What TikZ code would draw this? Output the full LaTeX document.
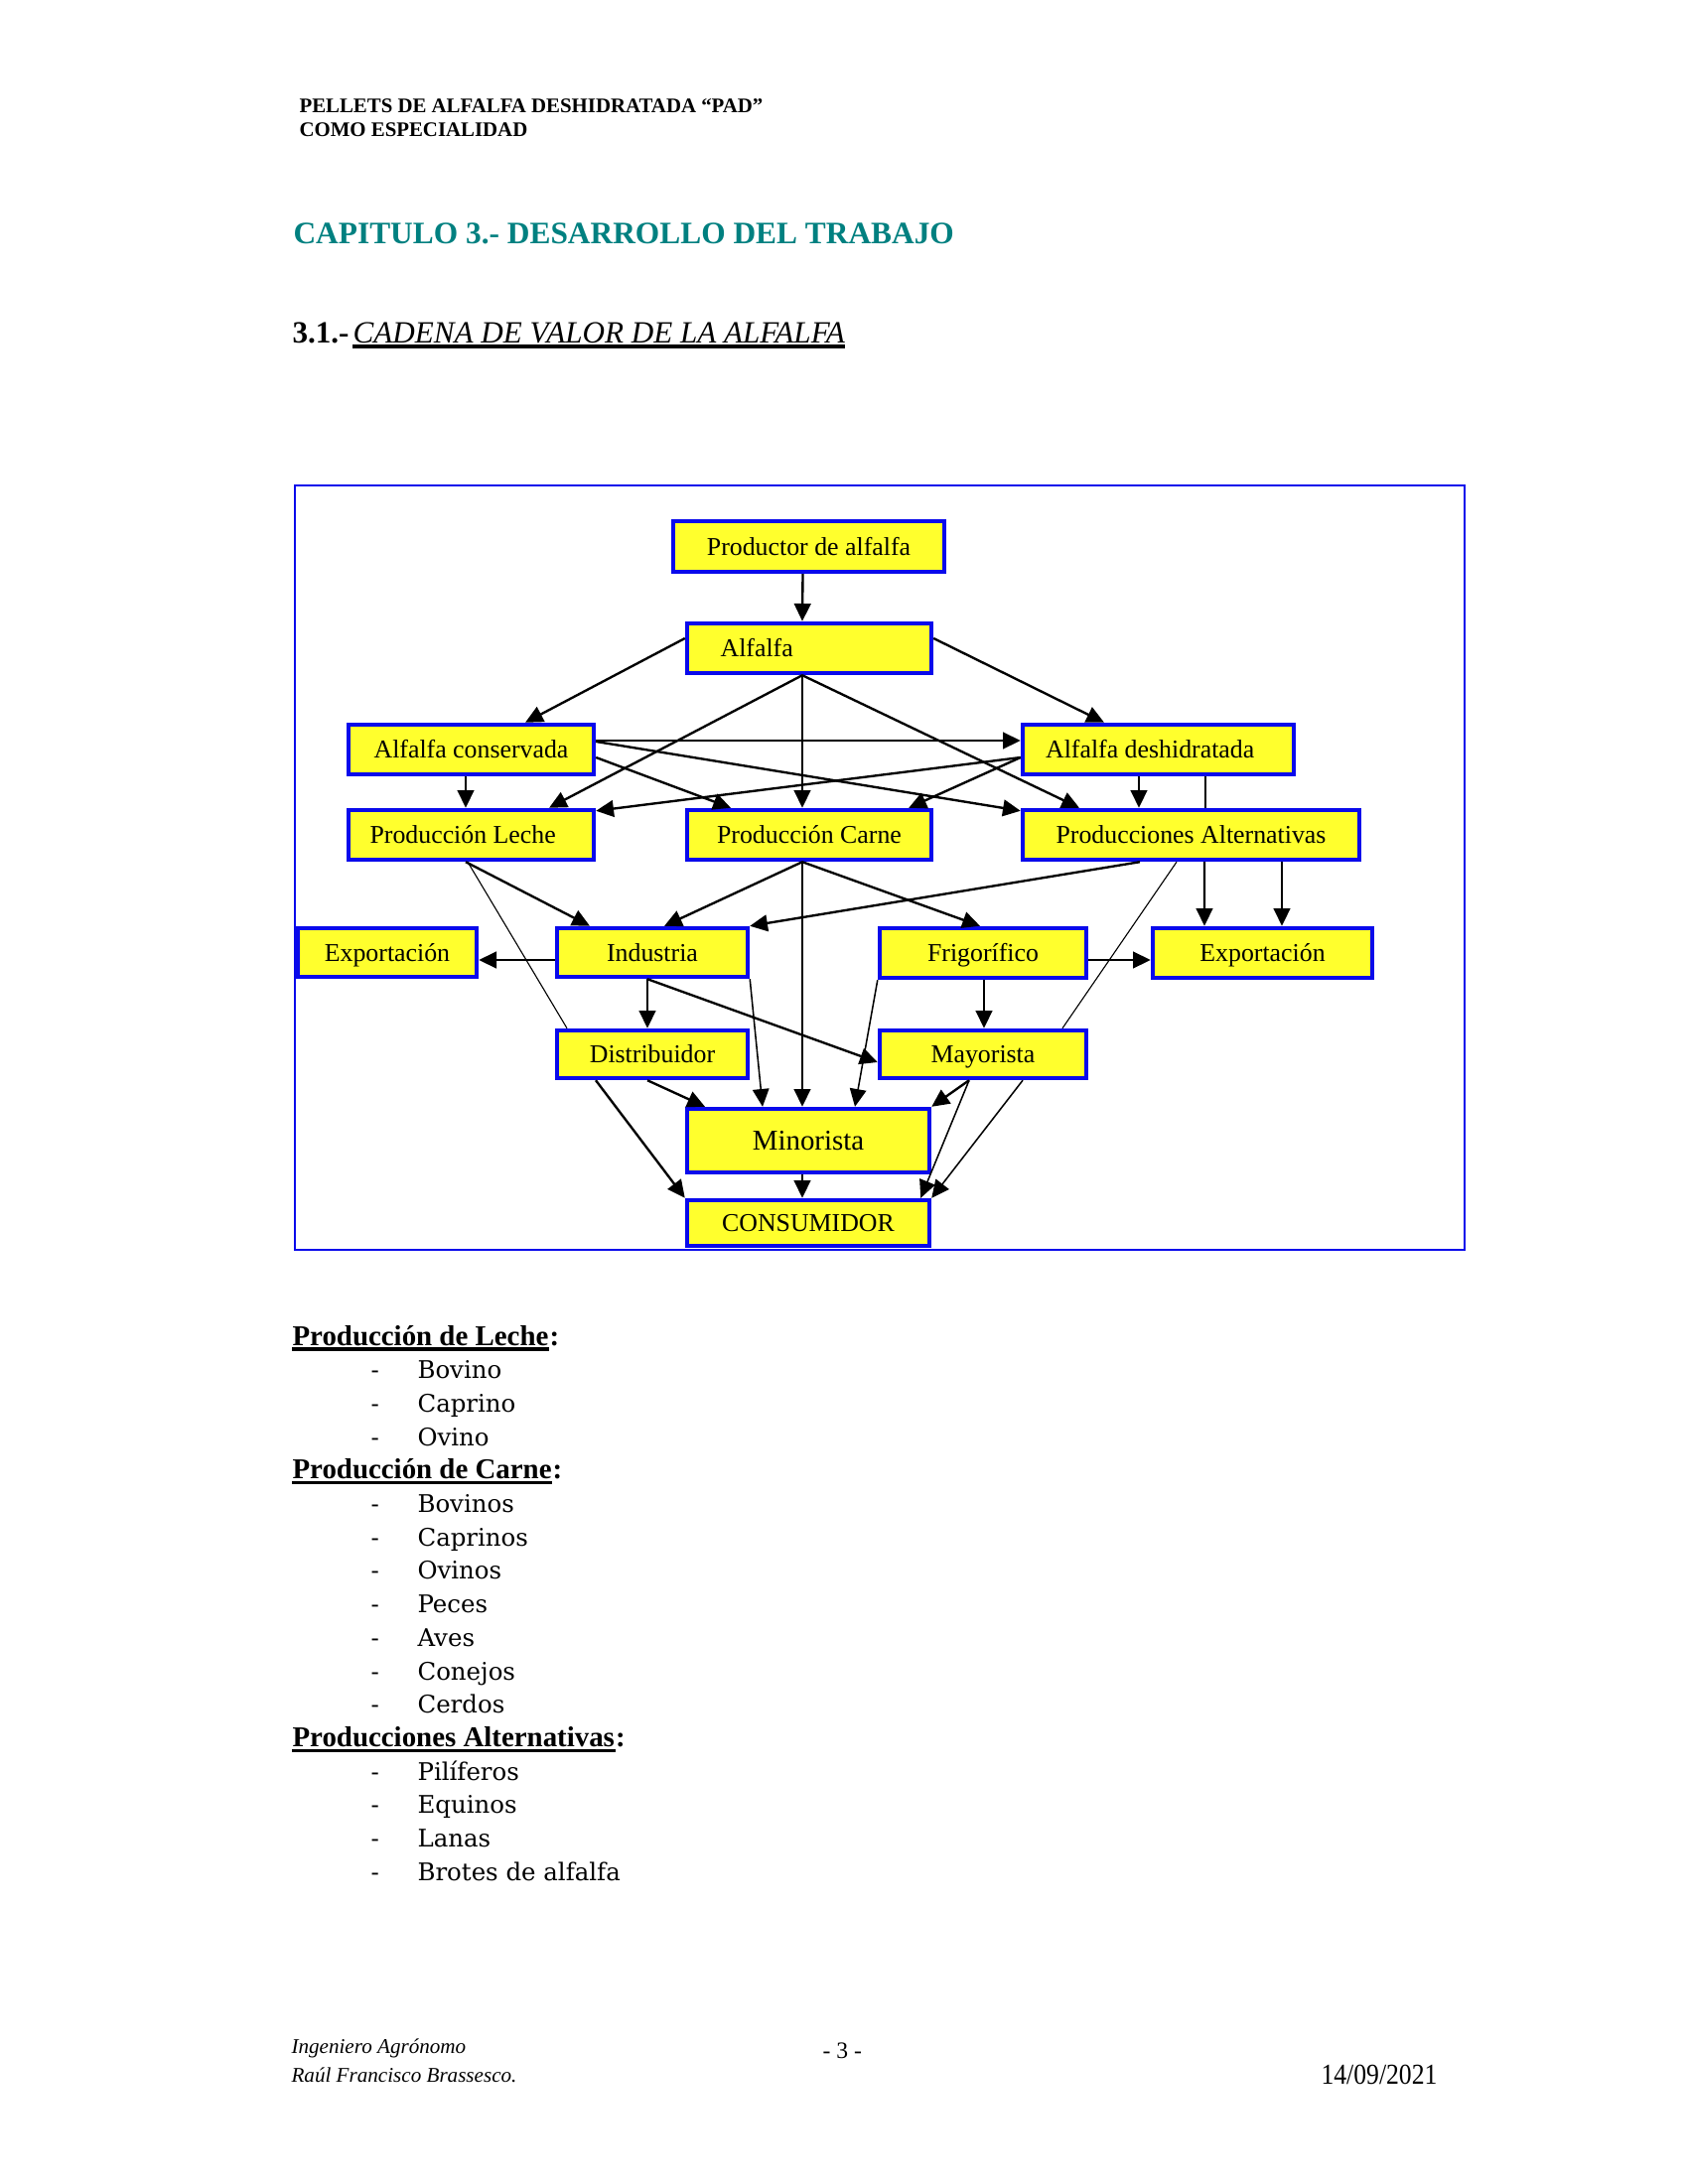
\documentclass[tikz,border=0pt]{standalone}
\usepackage{fontspec}
\setmainfont{Liberation Serif}
\newfontfamily\listfont{DejaVu Serif}
\newfontfamily\datefont[FakeStretch=0.88]{Liberation Serif}
\usetikzlibrary{arrows.meta,calc}
\definecolor{boxblue}{RGB}{10,10,235}
\definecolor{boxyellow}{RGB}{255,255,45}
\definecolor{titleteal}{RGB}{0,128,128}
\begin{document}
\begin{tikzpicture}[x=0.36pt,y=-0.36pt,
  box/.style 2 args={draw=boxblue, fill=boxyellow, line width=1.6pt,
    minimum width=#1*0.36pt, minimum height=#2*0.36pt, inner sep=0pt,
    text height=6.4pt, text depth=0pt,
    font=\fontsize{9.3}{11}\selectfont},
  arr/.style={line width=0.85pt, -{Triangle[length=6.4pt,width=6pt]}},
  arrthin/.style={line width=0.55pt, -{Triangle[length=6.4pt,width=6pt]}},
  ln/.style={line width=0.4pt},
  txt/.style={inner sep=0pt, anchor=base west},
  hdr/.style={txt, font=\bfseries\fontsize{7.5}{9}\selectfont},
  lhead/.style={txt, font=\bfseries\fontsize{10.4}{12}\selectfont},
  litem/.style={txt, font=\listfont\fontsize{8.8}{11}\selectfont},
  foot/.style={txt, font=\itshape\fontsize{7.6}{9}\selectfont},
]
\useasboundingbox (0,0) rectangle (1700,2200);
\fill[white] (0,0) rectangle (1700,2200);

% header and titles
\node[hdr] (h1) at (301,114) {PELLETS DE ALFALFA DESHIDRATADA “PAD”};
\node[hdr] (h2) at (301,138) {COMO ESPECIALIDAD};
\node[txt, text=titleteal, font=\bfseries\fontsize{11.3}{13}\selectfont] (title) at (295,246) {CAPITULO 3.- DESARROLLO DEL TRABAJO};
\node[txt, font=\bfseries\fontsize{11.2}{13}\selectfont] (secnum) at (294,345) {3.1.-};
\node[txt, font=\itshape\fontsize{11.2}{13}\selectfont] (sectit) at (355,345) {CADENA DE VALOR DE LA ALFALFA};
\draw[line width=1.1pt] ($(sectit.base west)+(0,4)$) -- ($(sectit.base east)+(0,4)$);

% frame
\node[draw=boxblue, line width=0.6pt, minimum width=1178*0.36pt, minimum height=770*0.36pt, inner sep=0pt] (frame) at (886,874) {};

% boxes
\node[box={273}{51}] (prod) at (814.5,550.5) {Productor de alfalfa};
\node[box={246}{50}] (alf) at (815,653) {Alfalfa\kern38pt};
\node[box={247}{50}] (cons) at (474.5,755) {Alfalfa conservada};
\node[box={273}{50}] (desh) at (1166.5,755) {Alfalfa deshidratada\kern6pt};
\node[box={247}{50}] (leche) at (474.5,841) {Producción Leche\kern6pt};
\node[box={246}{50}] (carne) at (815,841) {Producción Carne};
\node[box={339}{50}] (palt) at (1199.5,841) {Producciones Alternativas};
\node[box={180}{49}] (expa) at (390,959.5) {Exportación};
\node[box={192}{49}] (ind) at (657,959.5) {Industria};
\node[box={208}{50}] (frig) at (990,960) {Frigorífico};
\node[box={221}{50}] (expb) at (1271.5,960) {Exportación};
\node[box={192}{48}] (dist) at (657,1062) {Distribuidor};
\node[box={208}{48}] (may) at (990,1062) {Mayorista};
\node[box={244}{64}, text height=7.1pt, font=\fontsize{10.4}{12}\selectfont] (mino) at (814,1149) {Minorista};
\node[box={244}{46}] (cons2) at (814,1232) {CONSUMIDOR};

% connectors
\draw[arr] ($(prod.south)+(-6,0)$) -- ($(alf.north)+(-7,0)$);
\draw[arr] ($(alf.west)+(0,-10)$) -- ($(cons.north)+(54.5,0)$);
\draw[arr] ($(alf.south)+(-7,0)$) -- ($(leche.north)+(78.5,0)$);
\draw[arr] ($(alf.south)+(-7,0)$) -- ($(carne.north)+(-7,0)$);
\draw[arr] ($(alf.south)+(-7,0)$) -- ($(palt.north)+(-112.5,0)$);
\draw[arr] ($(alf.east)+(0,-10)$) -- ($(desh.north)+(-54.5,0)$);
\draw[arr] ($(cons.east)+(0,-9)$) -- ($(desh.west)+(0,-9)$);
\draw[arr] ($(cons.east)+(0,-8)$) -- ($(palt.north west)+(0,3)$);
\draw[arr] ($(cons.east)+(0,8)$) -- ($(carne.north)+(-79,0)$);
\draw[arr] ($(cons.south)+(-5.5,0)$) -- ($(leche.north)+(-5.5,0)$);
\draw[arr] ($(desh.west)+(0,8)$) -- ($(leche.north east)+(0,3)$);
\draw[arr] ($(desh.west)+(0,8)$) -- ($(carne.north east)+(-25,0)$);
\draw[arr] ($(desh.south)+(-19.5,0)$) -- ($(palt.north)+(-52.5,0)$);
\draw[ln] ($(desh.south)+(47.5,0)$) -- ($(palt.north)+(14.5,0)$);
\draw[arr] ($(leche.south)+(-5.5,0)$) -- ($(ind.north)+(-63,0)$);
\draw[ln] ($(leche.south)+(-3.5,0)$) -- ($(dist.north)+(-86,0)$);
\draw[arr] ($(carne.south)+(-7,0)$) -- ($(ind.north)+(12,0)$);
\draw[arr] ($(carne.south)+(-7,0)$) -- ($(mino.north)+(-6,0)$);
\draw[arr] ($(carne.south)+(-7,0)$) -- ($(frig.north)+(-3,0)$);
\draw[arr] ($(palt.south)+(-51.5,0)$) -- (ind.north east);
\draw[ln] ($(palt.south)+(-14.5,0)$) -- ($(may.north)+(80,0)$);
\draw[arr] ($(palt.south)+(13.5,0)$) -- ($(expb.north)+(-58.5,0)$);
\draw[arr] ($(palt.south)+(91.5,0)$) -- ($(expb.north)+(19.5,0)$);
\draw[arr] ($(ind.west)+(0,7.5)$) -- ($(expa.east)+(0,7.5)$);
\draw[arr] ($(ind.south)+(-5,0)$) -- ($(dist.north)+(-5,0)$);
\draw[arr] ($(ind.south)+(-5,0)$) -- ($(may.west)+(0,8)$);
\draw[arrthin] (ind.south east) -- ($(mino.north)+(-46,0)$);
\draw[arr] ($(frig.east)+(0,7)$) -- ($(expb.west)+(0,7)$);
\draw[arr] ($(frig.south)+(1,0)$) -- ($(may.north)+(1,0)$);
\draw[arrthin] (frig.south west) -- ($(mino.north)+(47,0)$);
\draw[arr] ($(dist.south)+(-5,0)$) -- ($(mino.north)+(-104,0)$);
\draw[arr] ($(dist.south)+(-57,0)$) -- (cons2.north west);
\draw[arr] ($(mino.south)+(-6,0)$) -- ($(cons2.north)+(-6,0)$);
\draw[arr] ($(may.south)+(-14,0)$) -- (mino.north east);
\draw[arrthin] ($(may.south)+(-14,0)$) -- ($(cons2.north east)+(-11,0)$);
\draw[arrthin] ($(may.south)+(40,0)$) -- (cons2.north east);

% lists
\node[lhead] (pl) at (294,1355) {Producción de Leche};
\node[lhead] (plc) at (pl.base east) {:};
\draw[line width=1.1pt] ($(pl.base west)+(0,4)$) -- ($(pl.base east)+(0,4)$);
\foreach \t [count=\i] in {Bovino,Caprino,Ovino}{
  \node[litem] (la\i) at (373,{1355+\i*33.7}) {-};
  \node[litem] (lb\i) at (420,{1355+\i*33.7}) {\t};
}
\node[lhead] (pc) at (294,1489.8) {Producción de Carne};
\node[lhead] (pcc) at (pc.base east) {:};
\draw[line width=1.1pt] ($(pc.base west)+(0,4)$) -- ($(pc.base east)+(0,4)$);
\foreach \t [count=\i] in {Bovinos,Caprinos,Ovinos,Peces,Aves,Conejos,Cerdos}{
  \node[litem] (ca\i) at (373,{1489.8+\i*33.7}) {-};
  \node[litem] (cb\i) at (420,{1489.8+\i*33.7}) {\t};
}
\node[lhead] (pa) at (294,1759.4) {Producciones Alternativas};
\node[lhead] (pac) at (pa.base east) {:};
\draw[line width=1.1pt] ($(pa.base west)+(0,4)$) -- ($(pa.base east)+(0,4)$);
\foreach \t [count=\i] in {Pilíferos,Equinos,Lanas,Brotes de alfalfa}{
  \node[litem] (aa\i) at (373,{1759.4+\i*33.7}) {-};
  \node[litem] (ab\i) at (420,{1759.4+\i*33.7}) {\t};
}

% footer
\node[foot] (f1) at (293,2068) {Ingeniero Agrónomo};
\node[foot] (f2) at (293,2097) {Raúl Francisco Brassesco.};
\node[txt, font=\fontsize{8.5}{10}\selectfont] (pg) at (828,2073) {- 3 -};
\node[inner sep=0pt, anchor=base east, font=\datefont\fontsize{10.5}{12}\selectfont] (date) at (1448,2099) {14/09/2021};
\end{tikzpicture}
\end{document}
